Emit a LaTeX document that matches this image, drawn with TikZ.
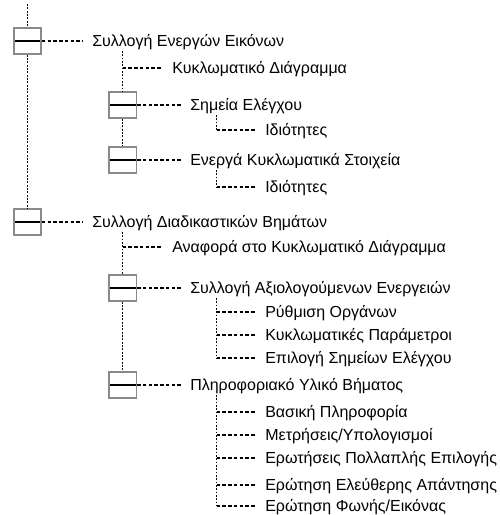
\documentclass[tikz,border=0pt]{standalone}
\usepackage{fontspec}
\setmainfont{Liberation Sans}
\usetikzlibrary{positioning}
\definecolor{BoxG} {HTML}{8A8A8A}
\definecolor{Ink}  {HTML}{000000}
\tikzset{
  grp/.style={
    rectangle, draw=BoxG, fill=white,
    line width=1.2pt, inner sep=0pt,
    minimum width=20.5pt, minimum height=19.5pt,
    path picture={\draw[Ink,line width=1.1pt]
      (path picture bounding box.west)--(path picture bounding box.east);},
  },
  lbl/.style={
    anchor=west, font=\fontsize{12}{13}\selectfont,
    text height=8.4pt, text depth=0pt,
    inner xsep=7pt, inner ysep=0pt,
  },
  dl/.style={
    Ink, line width=0.8pt, dash pattern=on 2.6pt off 1.7pt,
  },
  dlv/.style={
    Ink, line width=0.8pt, dash pattern=on 1.4pt off 1.1pt,
  },
}

\begin{document}
\begin{tikzpicture}[x=0.75pt,y=-0.75pt]
    \useasboundingbox (0,0) rectangle (500,515);

    % first collection
    \coordinate (top) at (27.5,4);
    \node[grp] (img)   at (27.5,41)   {};
    \node[lbl] (imgT)  at (82.7,41)   {Συλλογή Ενεργών Εικόνων};
    \node[lbl] (circ)  at (162.7,68)  {Κυκλωματικό Διάγραμμα};
    \node[grp] (tp)    at (122.7,105) {};
    \node[lbl] (tpT)   at (180.7,105) {Σημεία Ελέγχου};
    \node[lbl] (tpP)   at (255.7,130) {Ιδιότητες};
    \node[grp] (el)    at (122.7,160) {};
    \node[lbl] (elT)   at (180.7,160) {Ενεργά Κυκλωματικά Στοιχεία};
    \node[lbl] (elP)   at (255.7,187) {Ιδιότητες};

    \coordinate (imgS) at ([xshift=30pt,yshift=-3pt]imgT.south west);
    \coordinate (tpS)  at ([xshift=27pt,yshift=-3pt]tpT.south west);
    \coordinate (elS)  at ([xshift=27pt,yshift=-3pt]elT.south west);

    \draw[dlv] (top)--(img);
    \draw[dl]  (img)--(imgT);
    \draw[dlv] (imgS)--(tp);
    \draw[dl]  (imgS|-circ.west)--(circ.west);
    \draw[dl]  (tp)--(tpT);
    \draw[dlv] (tpS)--(tpS|-tpP.west);
    \draw[dl]  (tpS|-tpP.west)--(tpP.west);
    \draw[dlv] (tp)--(el);
    \draw[dl]  (el)--(elT);
    \draw[dlv] (elS)--(elS|-elP.west);
    \draw[dl]  (elS|-elP.west)--(elP.west);

    % second collection
    \node[grp] (stp)   at (27.5,222)  {};
    \node[lbl] (stpT)  at (82.7,222)  {Συλλογή Διαδικαστικών Βημάτων};
    \node[lbl] (ref)   at (162.7,247) {Αναφορά στο Κυκλωματικό Διάγραμμα};
    \node[grp] (act)   at (122.7,288) {};
    \node[lbl] (actT)  at (180.7,288) {Συλλογή Αξιολογούμενων Ενεργειών};
    \node[lbl] (actA)  at (255.7,312) {Ρύθμιση Οργάνων};
    \node[lbl] (actB)  at (255.7,335) {Κυκλωματικές Παράμετροι};
    \node[lbl] (actC)  at (255.7,358) {Επιλογή Σημείων Ελέγχου};
    \node[grp] (inf)   at (122.7,385) {};
    \node[lbl] (infT)  at (180.7,385) {Πληροφοριακό Υλικό Βήματος};
    \node[lbl] (infA)  at (255.7,412) {Βασική Πληροφορία};
    \node[lbl] (infB)  at (255.7,435) {Μετρήσεις/Υπολογισμοί};
    \node[lbl] (infC)  at (255.7,458) {Ερωτήσεις Πολλαπλής Επιλογής};
    \node[lbl] (infD)  at (255.7,485) {Ερώτηση Ελεύθερης Απάντησης};
    \node[lbl] (infE)  at (255.7,506) {Ερώτηση Φωνής/Εικόνας};

    \coordinate (stpS) at ([xshift=30pt,yshift=-3pt]stpT.south west);
    \coordinate (actS) at ([xshift=27pt,yshift=-3pt]actT.south west);
    \coordinate (infS) at ([xshift=27pt,yshift=-3pt]infT.south west);

    \draw[dlv] (img)--(stp);
    \draw[dl]  (stp)--(stpT);
    \draw[dlv] (stpS)--(act);
    \draw[dl]  (stpS|-ref.west)--(ref.west);
    \draw[dl]  (act)--(actT);
    \draw[dlv] (actS)--(actS|-actC.west);
    \foreach \n in {actA,actB,actC}
      \draw[dl] (actS|-\n.west)--(\n.west);
    \draw[dlv] (act)--(inf);
    \draw[dl]  (inf)--(infT);
    \draw[dlv] (infS)--(infS|-infE.west);
    \foreach \n in {infA,infB,infC,infD,infE}
      \draw[dl] (infS|-\n.west)--(\n.west);
  \end{tikzpicture}
\end{document}
